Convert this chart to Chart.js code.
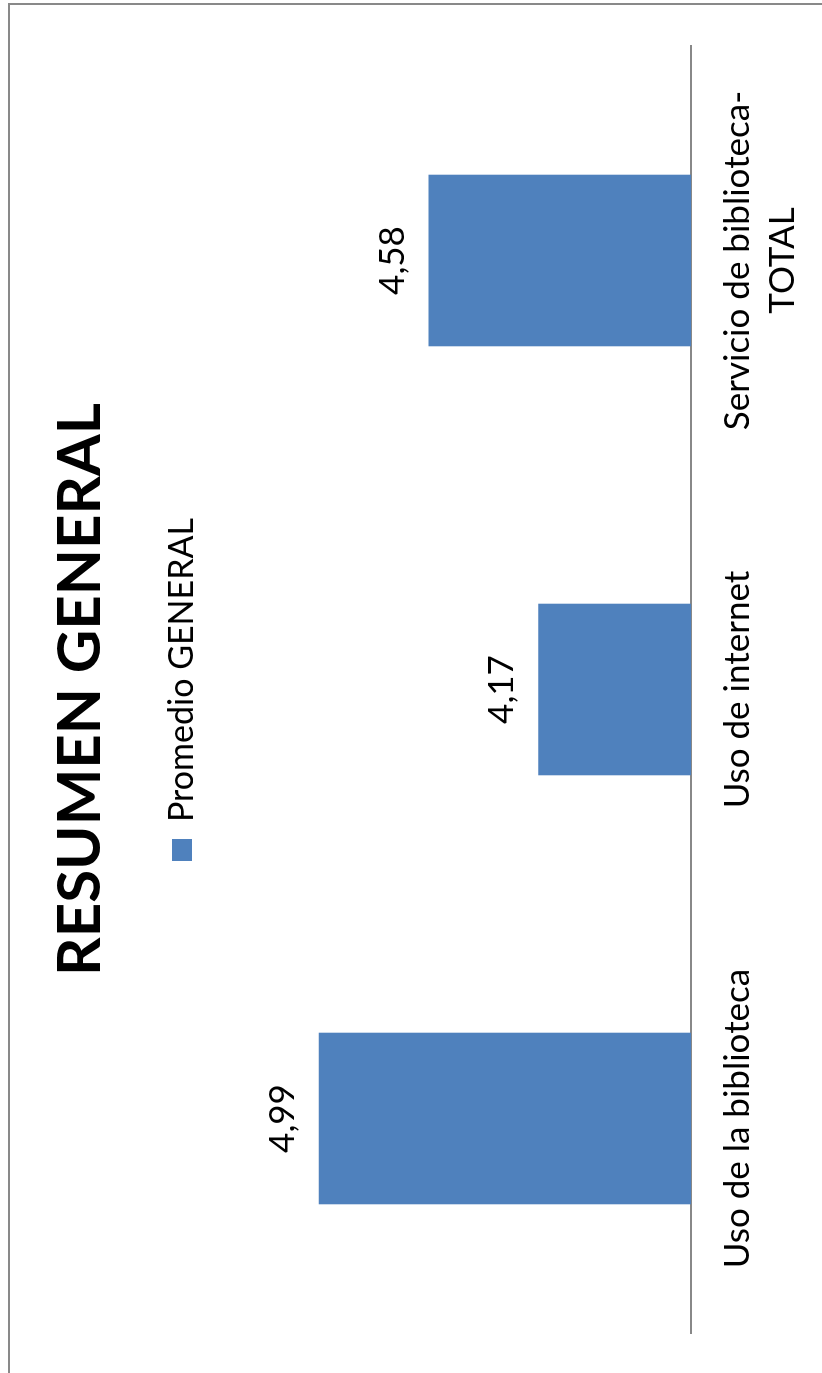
<!DOCTYPE html>
<html>
<head>
<meta charset="utf-8">
<title>Resumen general</title>
<script src="https://cdn.jsdelivr.net/npm/chart.js@4"></script>
<style>
  html, body { margin: 0; padding: 0; background: #fff; overflow: hidden; width: 822px; height: 1373px; }
  /* the chart is laid out landscape and turned a quarter turn counter-clockwise */
  #frame {
    position: absolute; left: 0; top: 0;
    width: 1373px; height: 822px;
    transform-origin: 0 0;
    transform: translate(0, 1373px) rotate(-90deg);
  }
  canvas { display: block; }
</style>
</head>
<body>
<div id="frame"><canvas id="c" width="1373" height="822"></canvas></div>
<script>
// categories and values
const categories = [
  'Uso de la biblioteca',
  'Uso de internet',
  ['Servicio de biblioteca-', 'TOTAL']
];
const promedioGeneral = [4.99, 4.17, 4.58];
const seriesName = 'Promedio GENERAL';
const chartTitle = 'RESUMEN GENERAL';

const FONT = 'Lato, "Open Sans", sans-serif';
const BAR_BLUE = '#4F81BD';

// comma-decimal value written above each bar
const valueLabels = {
  id: 'valueLabels',
  afterDatasetsDraw(chart) {
    const ctx = chart.ctx;
    const ds = chart.data.datasets[0];
    const meta = chart.getDatasetMeta(0);
    ctx.save();
    ctx.font = '35px ' + FONT;
    ctx.fillStyle = '#000';
    ctx.textAlign = 'center';
    ctx.textBaseline = 'alphabetic';
    meta.data.forEach((bar, i) => {
      const txt = ds.data[i].toFixed(2).replace('.', ',');
      ctx.fillText(txt, bar.x, bar.y - 25);
    });
    ctx.restore();
  }
};

// thin grey frame edges of the chart object
const frameLines = {
  id: 'frameLines',
  beforeDraw(chart) {
    const ctx = chart.ctx;
    ctx.save();
    ctx.strokeStyle = '#898989';
    ctx.lineWidth = 2;
    ctx.beginPath();
    ctx.moveTo(0, 9);
    ctx.lineTo(chart.width - 4, 9);
    ctx.lineTo(chart.width - 4, chart.height);
    ctx.stroke();
    ctx.restore();
  }
};

new Chart(document.getElementById('c'), {
  type: 'bar',
  data: {
    labels: categories,
    datasets: [{
      label: seriesName,
      data: promedioGeneral,
      backgroundColor: BAR_BLUE,
      borderWidth: 0,
      categoryPercentage: 1,
      barPercentage: 0.4
    }]
  },
  options: {
    responsive: false,
    animation: false,
    devicePixelRatio: 1,
    layout: { padding: { top: 0, left: 40, right: 46, bottom: -7 } },
    plugins: {
      tooltip: { enabled: false },
      title: {
        display: true,
        text: chartTitle,
        color: '#000',
        font: { family: FONT, size: 60, weight: 'bold', lineHeight: 1.2 },
        padding: { top: 45, bottom: 38 }
      },
      legend: {
        display: true,
        position: 'top',
        labels: {
          color: '#000',
          font: { family: FONT, size: 34 },
          boxWidth: 22,
          boxHeight: 20,
          padding: 10
        }
      }
    },
    scales: {
      x: {
        grid: { display: false, drawTicks: false },
        border: { display: true, color: '#888888', width: 2 },
        ticks: {
          color: '#000',
          font: { family: FONT, size: 35, lineHeight: 1.286 },
          padding: 24,
          maxRotation: 0,
          autoSkip: false
        }
      },
      y: {
        display: false,
        min: 3.6,
        max: 5.4
      }
    }
  },
  plugins: [frameLines, valueLabels]
});
</script>
</body>
</html>
